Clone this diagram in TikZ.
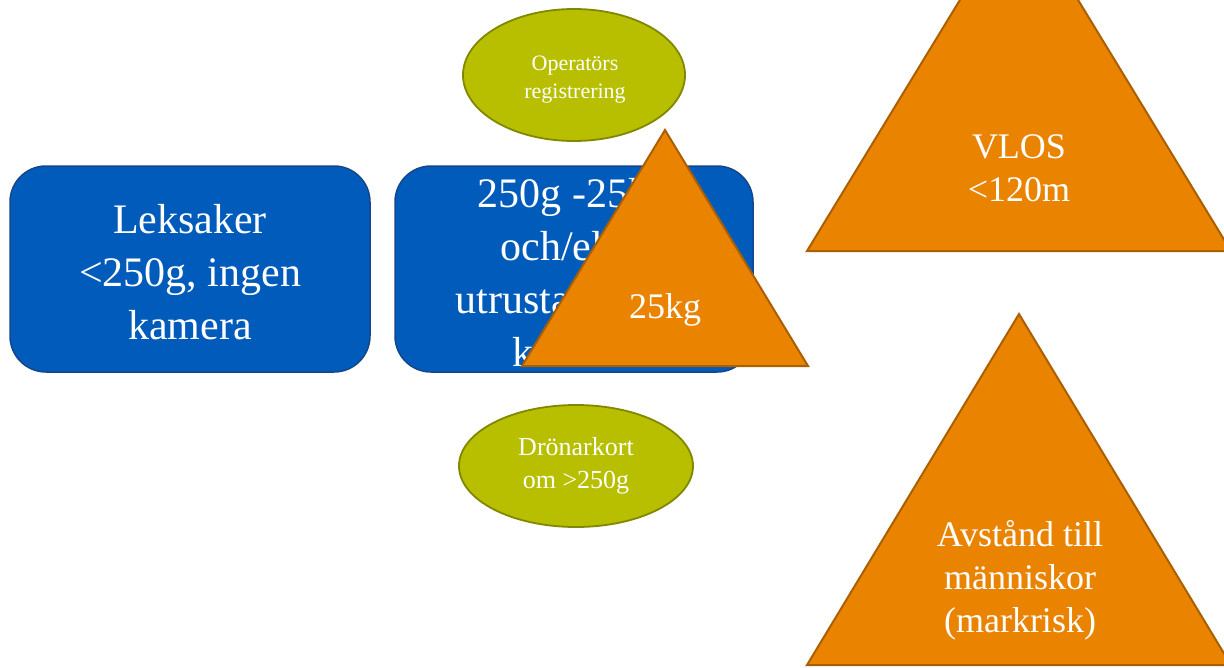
\documentclass[tikz,border=0pt]{standalone}
\usepackage{fontspec}
\setmainfont{Liberation Serif}
\usetikzlibrary{shapes.geometric}
\definecolor{boxblue}{RGB}{0,91,187}
\definecolor{boxblueline}{RGB}{20,70,140}
\definecolor{ellgreen}{RGB}{183,191,0}
\definecolor{ellgreenline}{RGB}{130,135,0}
\definecolor{triorange}{RGB}{233,131,0}
\definecolor{trioline}{RGB}{170,96,0}
\tikzset{
  bluebox/.style={draw=boxblueline, line width=1.5pt, fill=boxblue, rounded corners=36pt},
  greenell/.style={draw=ellgreenline, line width=1.8pt, fill=ellgreen},
  tri/.style={draw=trioline, line width=2pt, fill=triorange, line join=miter},
  txt/.style={text=white, align=center, inner sep=0pt},
  bigtxt/.style={txt, font=\fontsize{42}{53}\selectfont},
  midtxt/.style={txt, font=\fontsize{36}{43}\selectfont},
}
\begin{document}
\begin{tikzpicture}[x=1pt, y=-1pt]
\useasboundingbox (0,0) rectangle (1224,667);
\clip (0,0) rectangle (1224,667);
% blue boxes
\draw[bluebox] (10,166) rectangle (370,372);
\node[bigtxt] (leks) at (190,272) {Leksaker\\<250g, ingen\\kamera};
\draw[bluebox] (395,166) rectangle (753,372);
\node[bigtxt] (mid) at (574,273) {250g -25kg\\och/eller\\utrustade med\\kamera};
% ellipses
\node[greenell, ellipse, minimum width=222pt, minimum height=132pt, inner sep=0pt] (opell) at (574,75) {};
\node[txt, font=\fontsize{22}{28}\selectfont] (optxt) at (575,80) {Operatörs\\registrering};
\node[greenell, ellipse, minimum width=234pt, minimum height=122pt, inner sep=0pt] (drell) at (576,466) {};
\node[txt, font=\fontsize{26}{33}\selectfont] (drtxt) at (576,466) {Drönarkort\\om >250g};
% triangles
\draw[tri] (665,130) -- (808,366) -- (522,366) -- cycle;
\node[midtxt] (kg) at (665,310) {25kg};
\draw[tri] (1019,-97) -- (1231,251) -- (807,251) -- cycle;
\node[midtxt] (vlos) at (1019,168) {VLOS\\<120m};
\draw[tri] (1019,314) -- (1231,665) -- (807,665) -- cycle;
\node[midtxt] (avst) at (1020,580) {Avstånd till\\människor\\(markrisk)};
\end{tikzpicture}
\end{document}
